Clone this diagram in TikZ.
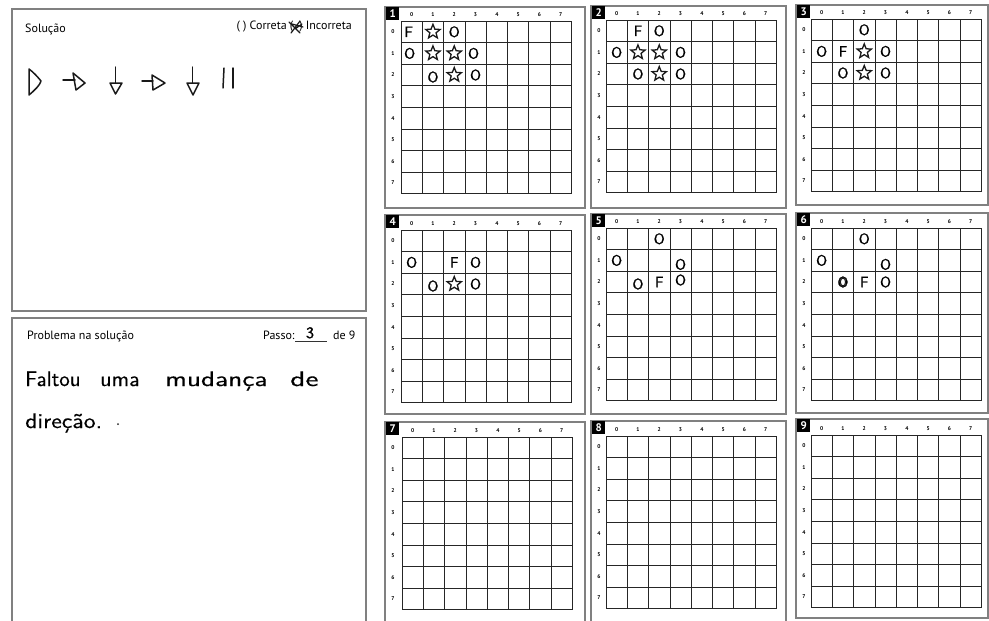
\documentclass[tikz,border=0pt]{standalone}
\usepackage{fontspec}
\setmainfont{PT Sans}
\newfontfamily\hwfont{lmsans10-regular.otf}[FakeBold=1.0]
\newfontfamily\hwthin{lmsans10-regular.otf}[FakeBold=0.4]
\usetikzlibrary{shapes.geometric,calc}
\tikzset{
  frame/.style={draw=black!50, line width=1.1pt},
  gline/.style={draw=black!85, line width=0.75pt},
  hdr/.style={font=\fontsize{5.5}{5.5}\selectfont\bfseries, inner sep=0pt},
  numbox/.style={fill=black, text=white, font=\fontsize{11}{11}\selectfont\bfseries, minimum width=13pt, minimum height=12.5pt, inner sep=0pt, anchor=north west},
  hw/.style={font=\fontsize{15}{15}\selectfont\hwfont, inner sep=0pt},
  hwbig/.style={font=\fontsize{21}{21}\selectfont\hwthin, inner sep=0pt, anchor=base west},
  pen/.style={draw=black!90, line width=1.5pt, line cap=round, line join=round},
  hstar/.style={star, star points=5, star point ratio=2.3, draw=black!90, line width=1.3pt, minimum size=15pt, inner sep=0pt},
  lbl/.style={font=\fontsize{12}{12}\selectfont, inner sep=0pt},
}
% #1 name, #2 number, #3 fx1, #4 fy1, #5 fx2, #6 fy2, #7 gx, #8 gy
\newcommand{\gridpanel}[8]{%
  \draw[frame] (#3,#4) rectangle (#5,#6);
  \foreach \i in {0,...,8} {
    \draw[gline] (#7+\i*21.3,#8) -- (#7+\i*21.3,#8+8*21.6);
    \draw[gline] (#7,#8+\i*21.6) -- (#7+8*21.3,#8+\i*21.6);
  }
  \foreach \i in {0,...,7} {
    \node[hdr] (#1c\i) at (#7+\i*21.3+10.65,#8-6) {\i};
    \node[hdr] (#1r\i) at (#3+8,#8+\i*21.6+10.8) {\i};
  }
  \node[numbox] (#1n) at (#3+1,#4) {#2};
  \coordinate (#1) at (#7,#8);
}
\newcommand{\mO}[4][]{\node[hw,#1] (#2o#3#4) at ($(#2)+(#3*21.3+10.65,#4*21.6+10.8)$) {O};}
\newcommand{\mF}[4][]{\node[hw,#1] (#2f#3#4) at ($(#2)+(#3*21.3+10.65,#4*21.6+10.8)$) {F};}
\newcommand{\mS}[4][]{\node[hstar,#1] (#2s#3#4) at ($(#2)+(#3*21.3+10.65,#4*21.6+10.8)$) {};}
\begin{document}
\begin{tikzpicture}[x=1pt,y=-1pt]
\useasboundingbox (0,0) rectangle (989,621);
\clip (0,0) rectangle (989,621);
\fill[white] (0,0) rectangle (989,621);

% ---------- left panels ----------
\draw[frame] (12,9) rectangle (366,311);
\node[lbl, anchor=base west] (sol) at (25,32) {Solução};
\node[lbl, anchor=base east] (cor) at (352,30) {( ) Correta (\hspace{0.5em}) Incorreta};
\draw[pen, line width=1.2pt] (289,22) -- (300,33) (300,21) -- (291,33) (292,24) -- (303,27) (295,29) -- (302,24);

% handwritten solution
\draw[pen] (29,69) -- (29,95) .. controls (35,90) and (40,85) .. (41,81) .. controls (37,76) and (33,72) .. (29,69);
\draw[pen] (63,80) -- (75,80);
\draw[pen] (73,73) -- (85,83) -- (76,90) -- cycle;
\draw[pen] (115.5,67) -- (115.5,83);
\draw[pen] (110,83) -- (122,83) -- (115.5,94) -- cycle;
\draw[pen] (142,81) -- (153,81);
\draw[pen] (152,75) -- (165,83) -- (153,90) -- cycle;
\draw[pen] (192.5,67) -- (192.5,83);
\draw[pen] (187,83) -- (199,83) -- (193,95) -- cycle;
\draw[pen] (224,68) -- (223,88);
\draw[pen] (233,68) -- (233,88);

\draw[frame] (12,318) rectangle (366,640);
\node[lbl, anchor=base west] (prob) at (27,339) {Problema na solução};
\node[lbl, anchor=base west] (passo) at (263,339) {Passo:};
\draw[black!80, line width=0.7pt] (295,341) -- (327,341);
\node[lbl, anchor=base west] (de9) at (333,339) {de 9};
\node[font=\fontsize{16}{16}\selectfont\hwfont, inner sep=0pt, anchor=base] (three) at (310,338) {3};

\node[hwbig] (w1) at (25,386) {Faltou};
\node[hwbig] (w2) at (100,386) {\scalebox{1.05}[1]{uma}};
\node[hwbig] (w3) at (165,386) {\scalebox{1.3}[1]{mudança}};
\node[hwbig] (w4) at (290,386) {\scalebox{1.4}[1]{de}};
\node[hwbig] (w5) at (25,428) {\scalebox{1.13}[1]{direção.}};
\fill[black!85] (118,424) circle (1);

% ---------- grid panels ----------
\gridpanel{P1}{1}{385}{7}{585}{208}{401}{21}
\gridpanel{P2}{2}{591}{6}{786}{208}{606}{20}
\gridpanel{P3}{3}{796}{5}{988}{205}{811}{19}
\gridpanel{P4}{4}{385}{215}{585}{414}{401}{230}
\gridpanel{P5}{5}{591}{214}{786}{414}{606}{228}
\gridpanel{P6}{6}{796}{213}{988}{413}{811}{228}
\gridpanel{P7}{7}{385}{422}{585}{640}{402}{437}
\gridpanel{P8}{8}{591}{421}{786}{640}{606}{436}
\gridpanel{P9}{9}{796}{419}{988}{618}{811}{435}

% panel 1
\mF[xshift=-3pt]{P1}{0}{0}
\mS{P1}{1}{0}
\mO{P1}{2}{0}
\mO[xshift=-2pt]{P1}{0}{1}
\mS{P1}{1}{1}
\mS{P1}{2}{1}
\mO[xshift=-2pt]{P1}{3}{1}
\mO[yshift=-2pt]{P1}{1}{2}
\mS{P1}{2}{2}
\mO{P1}{3}{2}
% panel 2
\mF{P2}{1}{0}
\mO{P2}{2}{0}
\mO{P2}{0}{1}
\mS{P2}{1}{1}
\mS{P2}{2}{1}
\mO{P2}{3}{1}
\mO{P2}{1}{2}
\mS{P2}{2}{2}
\mO{P2}{3}{2}
% panel 3
\mO{P3}{2}{0}
\mO{P3}{0}{1}
\mF{P3}{1}{1}
\mS{P3}{2}{1}
\mO{P3}{3}{1}
\mO{P3}{1}{2}
\mS{P3}{2}{2}
\mO{P3}{3}{2}
% panel 4
\mO{P4}{0}{1}
\mF{P4}{2}{1}
\mO{P4}{3}{1}
\mO[yshift=-2pt]{P4}{1}{2}
\mS{P4}{2}{2}
\mO{P4}{3}{2}
% panel 5
\mO{P5}{2}{0}
\mO{P5}{0}{1}
\mO[yshift=-4pt]{P5}{3}{1}
\mO[yshift=-2pt]{P5}{1}{2}
\mF{P5}{2}{2}
\mO[yshift=2pt]{P5}{3}{2}
% panel 6
\mO{P6}{2}{0}
\mO{P6}{0}{1}
\mO[yshift=-4pt]{P6}{3}{1}
\mO{P6}{1}{2}
\draw[pen, line width=1.1pt] ($(P6)+(1*21.3+10.65,2*21.6+10.8)$) ellipse (2.6 and 4);
\mF{P6}{2}{2}
\mO{P6}{3}{2}
\end{tikzpicture}
\end{document}
